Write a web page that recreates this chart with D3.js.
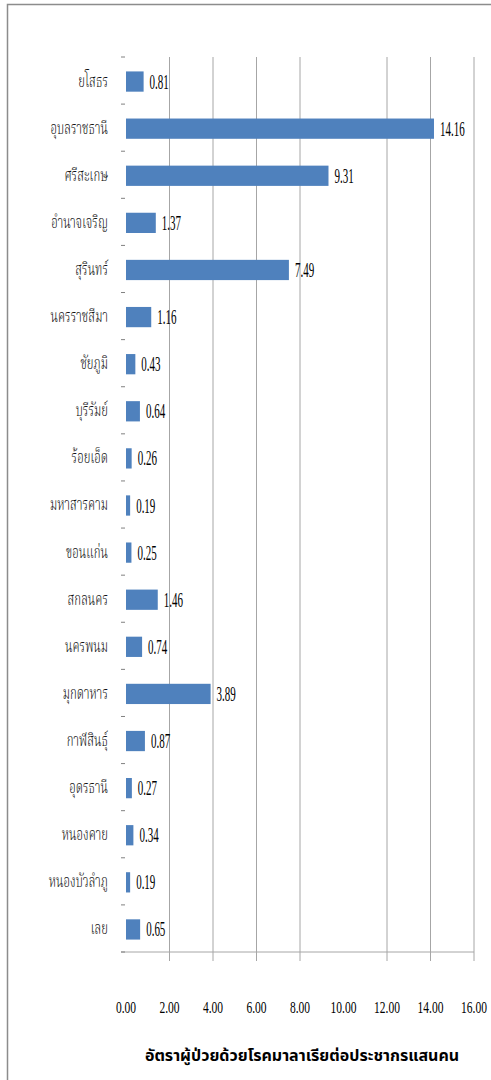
<!DOCTYPE html>
<html>
<head>
<meta charset="utf-8">
<script src="https://cdn.jsdelivr.net/npm/d3@7"></script>
<style>
  body { margin: 0; background: #fff; }
</style>
</head>
<body>
<div id="chart"></div>
<script>
// provinces, top to bottom as in the picture
const provinces = ["ยโสธร", "อุบลราชธานี", "ศรีสะเกษ", "อำนาจเจริญ", "สุรินทร์", "นครราชสีมา",
    "ชัยภูมิ", "บุรีรัมย์", "ร้อยเอ็ด", "มหาสารคาม", "ขอนแก่น", "สกลนคร", "นครพนม",
    "มุกดาหาร", "กาฬสินธุ์", "อุดรธานี", "หนองคาย", "หนองบัวลำภู", "เลย"];
const rates = [0.81, 14.16, 9.31, 1.37, 7.49, 1.16, 0.43, 0.64, 0.26, 0.19, 0.25, 1.46,
    0.74, 3.89, 0.87, 0.27, 0.34, 0.19, 0.65];
const xTicks = [0, 2, 4, 6, 8, 10, 12, 14, 16];
const xTitle = "อัตราผู้ป่วยด้วยโรคมาลาเรียต่อประชากรแสนคน";

const W = 491, H = 1080;
const barColor = "#4f81bd";
const gridColor = "#a6a6a6";

var svg = d3.select("#chart")
    .append("svg")
    .attr("width", W)
    .attr("height", H);

// outer frame
svg.append("rect")
    .attr("x", 7.5).attr("y", 4.5)
    .attr("width", W + 20).attr("height", H + 20)
    .attr("fill", "#fff")
    .attr("stroke", "#8c8c8c")
    .attr("stroke-width", 1.5);

var x = d3.scaleLinear().domain([0, 16]).range([126, 474]);
var y = d3.scaleBand()
    .domain(provinces)
    .range([57, 952])
    .paddingInner(0.57)
    .paddingOuter(0.285);

var data = provinces.map((p, i) => ({ name: p, value: rates[i] }));

// vertical gridlines (the 10.00 line is not drawn in the original)
svg.selectAll(".grid")
    .data(xTicks.filter(t => t !== 0 && t !== 10))
    .enter().append("line")
    .attr("x1", d => x(d)).attr("x2", d => x(d))
    .attr("y1", y.range()[0]).attr("y2", y.range()[1] + 9)
    .attr("stroke", gridColor)
    .attr("stroke-width", 1);

// x axis line
svg.append("line")
    .attr("x1", x(0) - 5).attr("x2", x(16))
    .attr("y1", y.range()[1]).attr("y2", y.range()[1])
    .attr("stroke", gridColor);

// y tick marks on the category boundaries
svg.selectAll(".ytick")
    .data(d3.range(provinces.length + 1))
    .enter().append("line")
    .attr("x1", x(0) - 5).attr("x2", x(0) - 1)
    .attr("y1", i => y.range()[0] + i * y.step())
    .attr("y2", i => y.range()[0] + i * y.step())
    .attr("stroke", "#808080");

// bars
svg.selectAll(".bar")
    .data(data)
    .enter().append("rect")
    .attr("x", x(0))
    .attr("y", d => y(d.name) + 1)
    .attr("width", d => x(d.value) - x(0))
    .attr("height", y.bandwidth())
    .attr("fill", barColor);

// value labels
svg.selectAll(".val")
    .data(data)
    .enter().append("text")
    .attr("transform", d => "translate(" + (x(d.value) + 6) + "," + (y(d.name) + 1 + y.bandwidth() / 2) + ") scale(0.55,1)")
    .attr("dy", "0.35em")
    .style("font-family", "'Liberation Serif', serif")
    .style("font-size", "20px")
    .attr("fill", "#000")
    .text(d => d.value.toFixed(2));

// category labels
svg.selectAll(".cat")
    .data(data)
    .enter().append("text")
    .attr("transform", d => "translate(108," + (y(d.name) + y.bandwidth() / 2) + ") scale(0.68,1)")
    .attr("dy", "0.35em")
    .attr("text-anchor", "end")
    .style("font-family", "'Noto Serif Thai', 'Noto Sans Thai', serif")
    .style("font-size", "17px")
    .style("font-weight", "300")
    .attr("fill", "#111")
    .text(d => d.name);

// x tick labels
svg.selectAll(".xt")
    .data(xTicks)
    .enter().append("text")
    .attr("transform", d => "translate(" + x(d) + ",1007) scale(0.72,1)")
    .attr("dy", "0.35em")
    .attr("text-anchor", "middle")
    .style("font-family", "'Liberation Serif', serif")
    .style("font-size", "16px")
    .attr("fill", "#000")
    .text(d => d.toFixed(2));

// x title
svg.append("text")
    .attr("x", 302)
    .attr("y", 1055)
    .attr("dy", "0.35em")
    .attr("text-anchor", "middle")
    .style("font-family", "'Noto Sans Thai', 'Noto Sans', sans-serif")
    .style("font-size", "16px")
    .style("font-weight", "bold")
    .attr("fill", "#000")
    .text(xTitle);
</script>
</body>
</html>
